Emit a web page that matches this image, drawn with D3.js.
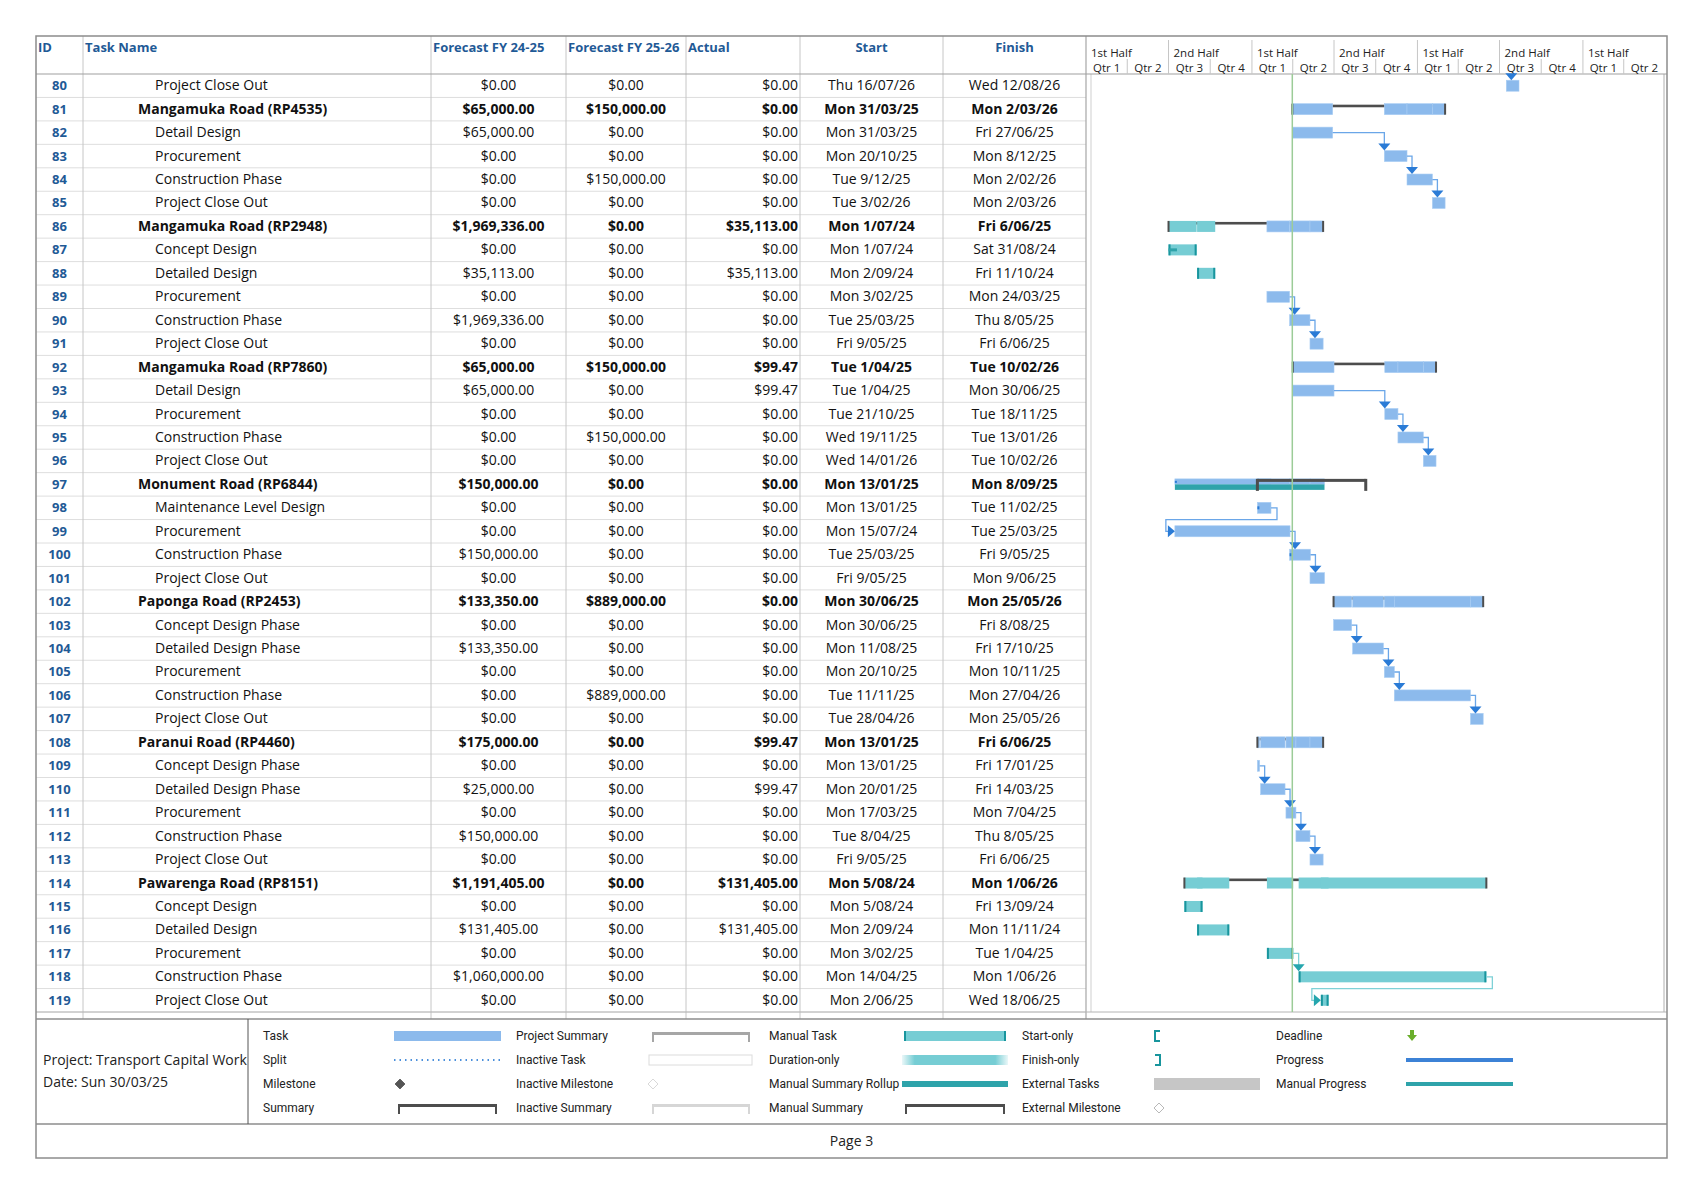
<!DOCTYPE html>
<html>
<head>
<meta charset="utf-8">
<script src="https://cdn.jsdelivr.net/npm/d3@7"></script>
<style>
  body { margin: 0; background: #fff; }
  svg text { font-family: "Segoe UI", "Open Sans", "Noto Sans", sans-serif; }
  .legend text { font-family: "Liberation Sans Narrow", "Roboto", sans-serif; }
</style>
</head>
<body>
<div id="svg-container"></div>
<script>
// ---- task table (rows 80 - 119 of the plan) ----
var taskIds = d3.range(80, 120);

var taskNames = [
  "Project Close Out",
  "Mangamuka Road (RP4535)", "Detail Design", "Procurement", "Construction Phase", "Project Close Out",
  "Mangamuka Road (RP2948)", "Concept Design", "Detailed Design", "Procurement", "Construction Phase", "Project Close Out",
  "Mangamuka Road (RP7860)", "Detail Design", "Procurement", "Construction Phase", "Project Close Out",
  "Monument Road (RP6844)", "Maintenance Level Design", "Procurement", "Construction Phase", "Project Close Out",
  "Paponga Road (RP2453)", "Concept Design Phase", "Detailed Design Phase", "Procurement", "Construction Phase", "Project Close Out",
  "Paranui Road (RP4460)", "Concept Design Phase", "Detailed Design Phase", "Procurement", "Construction Phase", "Project Close Out",
  "Pawarenga Road (RP8151)", "Concept Design", "Detailed Design", "Procurement", "Construction Phase", "Project Close Out"
];

// task = auto scheduled, manual = manually scheduled, summary / manualSummary = roll-up rows
var taskTypes = [
  "task",
  "summary", "task", "task", "task", "task",
  "summary", "manual", "manual", "task", "task", "task",
  "summary", "task", "task", "task", "task",
  "manualSummary", "task", "task", "task", "task",
  "summary", "task", "task", "task", "task", "task",
  "summary", "task", "task", "task", "task", "task",
  "summary", "manual", "manual", "manual", "manual", "manual"
];

var forecastFY2425 = [
  0,
  65000, 65000, 0, 0, 0,
  1969336, 0, 35113, 0, 1969336, 0,
  65000, 65000, 0, 0, 0,
  150000, 0, 0, 150000, 0,
  133350, 0, 133350, 0, 0, 0,
  175000, 0, 25000, 0, 150000, 0,
  1191405, 0, 131405, 0, 1060000, 0
];

var forecastFY2526 = [
  0,
  150000, 0, 0, 150000, 0,
  0, 0, 0, 0, 0, 0,
  150000, 0, 0, 150000, 0,
  0, 0, 0, 0, 0,
  889000, 0, 0, 0, 889000, 0,
  0, 0, 0, 0, 0, 0,
  0, 0, 0, 0, 0, 0
];

var actualCost = [
  0,
  0, 0, 0, 0, 0,
  35113, 0, 35113, 0, 0, 0,
  99.47, 99.47, 0, 0, 0,
  0, 0, 0, 0, 0,
  0, 0, 0, 0, 0, 0,
  99.47, 0, 99.47, 0, 0, 0,
  131405, 0, 131405, 0, 0, 0
];

var startText = [
  "Thu 16/07/26",
  "Mon 31/03/25", "Mon 31/03/25", "Mon 20/10/25", "Tue 9/12/25", "Tue 3/02/26",
  "Mon 1/07/24", "Mon 1/07/24", "Mon 2/09/24", "Mon 3/02/25", "Tue 25/03/25", "Fri 9/05/25",
  "Tue 1/04/25", "Tue 1/04/25", "Tue 21/10/25", "Wed 19/11/25", "Wed 14/01/26",
  "Mon 13/01/25", "Mon 13/01/25", "Mon 15/07/24", "Tue 25/03/25", "Fri 9/05/25",
  "Mon 30/06/25", "Mon 30/06/25", "Mon 11/08/25", "Mon 20/10/25", "Tue 11/11/25", "Tue 28/04/26",
  "Mon 13/01/25", "Mon 13/01/25", "Mon 20/01/25", "Mon 17/03/25", "Tue 8/04/25", "Fri 9/05/25",
  "Mon 5/08/24", "Mon 5/08/24", "Mon 2/09/24", "Mon 3/02/25", "Mon 14/04/25", "Mon 2/06/25"
];

var finishText = [
  "Wed 12/08/26",
  "Mon 2/03/26", "Fri 27/06/25", "Mon 8/12/25", "Mon 2/02/26", "Mon 2/03/26",
  "Fri 6/06/25", "Sat 31/08/24", "Fri 11/10/24", "Mon 24/03/25", "Thu 8/05/25", "Fri 6/06/25",
  "Tue 10/02/26", "Mon 30/06/25", "Tue 18/11/25", "Tue 13/01/26", "Tue 10/02/26",
  "Mon 8/09/25", "Tue 11/02/25", "Tue 25/03/25", "Fri 9/05/25", "Mon 9/06/25",
  "Mon 25/05/26", "Fri 8/08/25", "Fri 17/10/25", "Mon 10/11/25", "Mon 27/04/26", "Mon 25/05/26",
  "Fri 6/06/25", "Fri 17/01/25", "Fri 14/03/25", "Mon 7/04/25", "Thu 8/05/25", "Fri 6/06/25",
  "Mon 1/06/26", "Fri 13/09/24", "Mon 11/11/24", "Tue 1/04/25", "Mon 1/06/26", "Wed 18/06/25"
];

// small % complete marks seen on the bars
var percentComplete = [
  0,
  0, 0, 0, 0, 0,
  0, 0.3, 0, 0, 0, 0,
  0, 0, 0, 0, 0,
  0.01, 0.08, 0, 0.01, 0,
  0, 0, 0, 0, 0, 0,
  0, 0, 0, 0, 0, 0,
  0, 0, 0, 0, 0, 0
];

// finish-to-start links [predecessor, successor]; 79 is off this page
var links = [
  [79, 80], [82, 83], [83, 84], [84, 85], [89, 90], [90, 91],
  [93, 94], [94, 95], [95, 96], [98, 99], [99, 100], [100, 101],
  [103, 104], [104, 105], [105, 106], [106, 107],
  [109, 110], [110, 111], [111, 112], [112, 113], [117, 118], [118, 119]
];

var statusDateText = "Sun 30/03/25";
var timescaleStart = "1/01/24";
var timescaleEnd = "1/07/27";

var columnHeaders = ["ID", "Task Name", "Forecast FY 24-25", "Forecast FY 25-26", "Actual", "Start", "Finish"];

var legendLabels = [
  ["Task", "Split", "Milestone", "Summary"],
  ["Project Summary", "Inactive Task", "Inactive Milestone", "Inactive Summary"],
  ["Manual Task", "Duration-only", "Manual Summary Rollup", "Manual Summary"],
  ["Start-only", "Finish-only", "External Tasks", "External Milestone"],
  ["Deadline", "Progress", "Manual Progress"]
];

// ---- page layout ----
var svgWidth = 1703, svgHeight = 1194;
var pageLeft = 36, pageRight = 1667, pageTop = 36;
var headerBottom = 74, tableBottom = 1012;
var legendTop = 1019, legendBottom = 1124, pageBottom = 1158;
var colEdges = [36, 83, 431, 566, 686, 800, 943, 1086];
var ganttLeft = 1086, ganttRight = 1665;
var barH = 11;

// colours
var taskBlue = "#8cbaec", taskBlueEdge = "#a9cdf3";
var manualTeal = "#76cdd4", manualCap = "#18959d", rollupTeal = "#2ea3aa";
var summaryDark = "#4d4d4d";
var linkBlue = "#6aa6e8", arrowBlue = "#2a7bd6";
var linkTeal = "#7fd1d7", arrowTeal = "#25a6ae";
var headBlue = "#1f5a96";
var gridLight = "#dedede", gridMid = "#c6c6c6", frameGray = "#8c8c8c";

var parseDay = d3.timeParse("%d/%m/%y");
function toDate(s) { return parseDay(s.indexOf(" ") >= 0 ? s.split(" ")[1] : s); }
var money = d3.format("$,.2f");

var tasks = taskIds.map(function(id, i) {
  return {
    id: id, name: taskNames[i], type: taskTypes[i],
    fy1: forecastFY2425[i], fy2: forecastFY2526[i], actual: actualCost[i],
    startText: startText[i], finishText: finishText[i],
    start: toDate(startText[i]), end: d3.timeDay.offset(toDate(finishText[i]), 1),
    pct: percentComplete[i]
  };
});
var byId = {};
tasks.forEach(function(t) { byId[t.id] = t; });

// children of each summary: following rows until the next summary
var currentSummary = null;
tasks.forEach(function(t) {
  if (t.type === "summary" || t.type === "manualSummary") { currentSummary = t; t.kids = []; }
  else if (currentSummary) currentSummary.kids.push(t);
});

// scales
var x = d3.scaleTime()
  .domain([toDate(timescaleStart), toDate(timescaleEnd)])
  .range([ganttLeft, ganttRight]);

var y = d3.scaleBand()
  .domain(taskIds)
  .range([headerBottom, tableBottom]);

function midY(id) { return y(id) + y.bandwidth() / 2; }

var svg = d3.select("#svg-container").append("svg")
  .attr("width", svgWidth)
  .attr("height", svgHeight);

svg.append("rect").attr("width", svgWidth).attr("height", svgHeight).attr("fill", "#fff");

// ---- table grid ----
var grid = svg.append("g").attr("class", "grid");

grid.selectAll(".rowline")
  .data(taskIds)
  .enter().append("line")
    .attr("x1", pageLeft).attr("x2", ganttLeft)
    .attr("y1", function(d) { return y(d) + y.step(); })
    .attr("y2", function(d) { return y(d) + y.step(); })
    .attr("stroke", gridLight).attr("stroke-width", 1);

grid.selectAll(".colline")
  .data(colEdges.slice(1, -1))
  .enter().append("line")
    .attr("x1", function(d) { return d; }).attr("x2", function(d) { return d; })
    .attr("y1", pageTop).attr("y2", legendTop)
    .attr("stroke", gridMid).attr("stroke-width", 1);

// gantt frame: header divider plus inner double lines
grid.append("line").attr("x1", ganttLeft).attr("x2", ganttLeft).attr("y1", pageTop).attr("y2", legendTop)
  .attr("stroke", "#a6a6a6").attr("stroke-width", 1.2);
grid.append("line").attr("x1", ganttLeft + 5).attr("x2", ganttLeft + 5).attr("y1", headerBottom).attr("y2", tableBottom)
  .attr("stroke", "#cfcfcf").attr("stroke-width", 1);
grid.append("line").attr("x1", ganttRight - 1).attr("x2", ganttRight - 1).attr("y1", headerBottom).attr("y2", tableBottom)
  .attr("stroke", "#b0b0b0").attr("stroke-width", 1);

grid.append("line").attr("x1", pageLeft).attr("x2", pageRight).attr("y1", headerBottom).attr("y2", headerBottom)
  .attr("stroke", "#a0a0a0").attr("stroke-width", 1.2);
grid.append("line").attr("x1", pageLeft).attr("x2", pageRight).attr("y1", tableBottom).attr("y2", tableBottom)
  .attr("stroke", "#b4b4b4").attr("stroke-width", 1);

// ---- column headers ----
var head = svg.append("g").attr("class", "head")
  .attr("font-size", 13).attr("font-weight", "bold").attr("fill", headBlue);
var headX = [pageLeft + 2, colEdges[1] + 2, colEdges[2] + 2, colEdges[3] + 2, colEdges[4] + 2,
  (colEdges[5] + colEdges[6]) / 2, (colEdges[6] + colEdges[7]) / 2];
head.selectAll("text")
  .data(columnHeaders)
  .enter().append("text")
    .attr("x", function(d, i) { return headX[i]; })
    .attr("y", 52)
    .attr("text-anchor", function(d, i) { return i >= 5 ? "middle" : "start"; })
    .text(function(d) { return d; });

// ---- timescale ----
var halves = d3.timeMonth.every(6).range(x.domain()[0], x.domain()[1]);
var quarters = d3.timeMonth.every(3).range(x.domain()[0], x.domain()[1]);
var scaleG = svg.append("g").attr("class", "timescale").attr("font-size", 11.5).attr("fill", "#222");

scaleG.selectAll(".half-div")
  .data(halves.slice(1))
  .enter().append("line")
    .attr("x1", function(d) { return x(d); }).attr("x2", function(d) { return x(d); })
    .attr("y1", 40).attr("y2", headerBottom)
    .attr("stroke", gridMid);
scaleG.selectAll(".qtr-div")
  .data(quarters.filter(function(d) { return d.getMonth() % 6 !== 0; }))
  .enter().append("line")
    .attr("x1", function(d) { return x(d); }).attr("x2", function(d) { return x(d); })
    .attr("y1", 59).attr("y2", headerBottom)
    .attr("stroke", gridMid);
scaleG.selectAll(".half-label")
  .data(halves)
  .enter().append("text")
    .attr("x", function(d) { return x(d) + 5; })
    .attr("y", 57)
    .text(function(d) { return d.getMonth() < 6 ? "1st Half" : "2nd Half"; });
scaleG.selectAll(".qtr-label")
  .data(quarters)
  .enter().append("text")
    .attr("x", function(d) { return (x(d) + x(d3.timeMonth.offset(d, 3))) / 2; })
    .attr("y", 72)
    .attr("text-anchor", "middle")
    .text(function(d) { return "Qtr " + (Math.floor(d.getMonth() / 3) + 1); });

// ---- table cells ----
var rows = svg.append("g").attr("class", "rows").attr("font-size", 14)
  .selectAll("g")
  .data(tasks)
  .enter().append("g")
    .attr("transform", function(d) { return "translate(0," + (midY(d.id) + 4.5) + ")"; })
    .attr("font-weight", function(d) { return d.type === "task" || d.type === "manual" ? "normal" : "bold"; });

rows.append("text")
  .attr("x", (colEdges[0] + colEdges[1]) / 2).attr("text-anchor", "middle")
  .attr("fill", headBlue).attr("font-weight", "bold").attr("font-size", 13)
  .text(function(d) { return d.id; });
rows.append("text")
  .attr("x", function(d) { return d.kids ? 138 : 155; })
  .attr("fill", "#111")
  .text(function(d) { return d.name; });
rows.append("text")
  .attr("x", (colEdges[2] + colEdges[3]) / 2).attr("text-anchor", "middle").attr("fill", "#111")
  .text(function(d) { return money(d.fy1); });
rows.append("text")
  .attr("x", (colEdges[3] + colEdges[4]) / 2).attr("text-anchor", "middle").attr("fill", "#111")
  .text(function(d) { return money(d.fy2); });
rows.append("text")
  .attr("x", colEdges[5] - 2).attr("text-anchor", "end").attr("fill", "#111")
  .text(function(d) { return money(d.actual); });
rows.append("text")
  .attr("x", (colEdges[5] + colEdges[6]) / 2).attr("text-anchor", "middle").attr("fill", "#111")
  .text(function(d) { return d.startText; });
rows.append("text")
  .attr("x", (colEdges[6] + colEdges[7]) / 2).attr("text-anchor", "middle").attr("fill", "#111")
  .text(function(d) { return d.finishText; });

// ---- gantt bars ----
var bars = svg.append("g").attr("class", "bars");

function barTop(id) { return midY(id) - barH / 2; }

function drawTaskBar(g, t, top, h) {
  var x0 = x(t.start), x1 = Math.max(x(t.end), x0 + 2);
  if (t.type === "manual") {
    g.append("rect").attr("x", x0).attr("y", top).attr("width", x1 - x0).attr("height", h)
      .attr("fill", manualTeal);
  } else {
    g.append("rect").attr("x", x0).attr("y", top).attr("width", x1 - x0).attr("height", h)
      .attr("fill", taskBlue).attr("stroke", taskBlueEdge).attr("stroke-width", 0.6);
  }
}

tasks.forEach(function(t) {
  var top = barTop(t.id);
  var g = bars.append("g");
  if (t.type === "summary") {
    // thin line over the summary span, roll-up bars of the children, end caps
    g.append("rect").attr("x", x(t.start)).attr("y", top + 1).attr("width", x(t.end) - x(t.start)).attr("height", 2.6)
      .attr("fill", summaryDark);
    t.kids.forEach(function(k) { drawTaskBar(g, k, top, barH); });
    [x(t.start), x(t.end)].forEach(function(cx) {
      g.append("rect").attr("x", cx - 1).attr("y", top).attr("width", 2).attr("height", barH).attr("fill", summaryDark);
    });
  } else if (t.type === "manualSummary") {
    var k0 = d3.min(t.kids, function(k) { return k.start; });
    var k1 = d3.max(t.kids, function(k) { return k.end; });
    t.kids.forEach(function(k) { drawTaskBar(g, k, top, barH / 2); });
    g.append("rect").attr("x", x(k0)).attr("y", top + barH / 2).attr("width", x(k1) - x(k0)).attr("height", barH / 2)
      .attr("fill", rollupTeal);
    g.append("rect").attr("x", x(k0)).attr("y", top + 2).attr("width", 2).attr("height", 2).attr("fill", arrowBlue);
    g.append("rect").attr("x", x(t.start)).attr("y", top).attr("width", x(t.end) - x(t.start)).attr("height", 3)
      .attr("fill", summaryDark);
    [x(t.start), x(t.end)].forEach(function(cx) {
      g.append("rect").attr("x", cx - 1.5).attr("y", top).attr("width", 3).attr("height", barH + 1).attr("fill", summaryDark);
    });
  } else {
    drawTaskBar(g, t, top, barH);
    var x0 = x(t.start), x1 = Math.max(x(t.end), x0 + 2);
    if (t.type === "manual") {
      [x0, x1 - 2].forEach(function(cx) {
        g.append("rect").attr("x", cx).attr("y", top).attr("width", 2).attr("height", barH).attr("fill", manualCap);
      });
      if (t.pct > 0) {
        g.append("rect").attr("x", x0).attr("y", midY(t.id) - 1.5).attr("width", (x1 - x0) * t.pct).attr("height", 3)
          .attr("fill", rollupTeal);
      }
    } else if (t.pct > 0) {
      g.append("rect").attr("x", x0).attr("y", midY(t.id) - 1.5).attr("width", Math.max(2, (x1 - x0) * t.pct)).attr("height", 3)
        .attr("fill", arrowBlue);
    }
  }
});

// ---- links ----
var linkG = svg.append("g").attr("class", "links").attr("fill", "none");

links.forEach(function(l) {
  var succ = byId[l[1]], pred = byId[l[0]];
  var manual = succ.type === "manual";
  var lc = manual ? linkTeal : linkBlue, ac = manual ? arrowTeal : arrowBlue;
  var sTop = barTop(succ.id), sx = x(succ.start);
  var path, arrow;
  if (!pred) {
    var axTop = sx + 5;
    path = "M" + axTop + "," + headerBottom + "V" + (sTop - 5);
    arrow = [[axTop - 6, sTop - 7], [axTop + 6, sTop - 7], [axTop, sTop]];
  } else {
    var pEnd = Math.max(x(pred.end), x(pred.start) + 2), pY = midY(pred.id);
    if (sx + 4 < pEnd - 20) {
      // successor lies to the left: loop round below the predecessor
      var loopY = y(pred.id) + y.step();
      var sY = midY(succ.id);
      path = "M" + pEnd + "," + pY + "H" + (pEnd + 6) + "V" + loopY + "H" + (sx - 9) + "V" + sY + "H" + (sx - 5);
      arrow = [[sx - 7, sY - 6], [sx - 7, sY + 6], [sx, sY]];
    } else {
      var ax = Math.max(sx, pEnd + 5);
      path = "M" + pEnd + "," + pY + "H" + ax + "V" + (sTop - 5);
      arrow = [[ax - 6, sTop - 7], [ax + 6, sTop - 7], [ax, sTop]];
    }
  }
  linkG.append("path").attr("d", path).attr("stroke", lc).attr("stroke-width", 1.3);
  linkG.append("path").attr("d", "M" + arrow.join("L") + "Z").attr("fill", ac);
});

// status date line
var statusX = x(d3.timeDay.offset(toDate(statusDateText), 1));
svg.append("line")
  .attr("x1", statusX).attr("x2", statusX)
  .attr("y1", headerBottom).attr("y2", tableBottom)
  .attr("stroke", "#9ccc98").attr("stroke-width", 1.5);

// ---- legend ----
var legend = svg.append("g").attr("class", "legend");
legend.append("line").attr("x1", pageLeft).attr("x2", pageRight).attr("y1", legendTop).attr("y2", legendTop)
  .attr("stroke", frameGray).attr("stroke-width", 1.5);
legend.append("line").attr("x1", pageLeft).attr("x2", pageRight).attr("y1", legendBottom).attr("y2", legendBottom)
  .attr("stroke", frameGray).attr("stroke-width", 1.5);
legend.append("line").attr("x1", 248).attr("x2", 248).attr("y1", legendTop).attr("y2", legendBottom)
  .attr("stroke", "#555").attr("stroke-width", 1);

svg.append("text").attr("x", 43).attr("y", 1065).attr("font-size", 14).attr("fill", "#222")
  .text("Project: Transport Capital Work");
svg.append("text").attr("x", 43).attr("y", 1087).attr("font-size", 14).attr("fill", "#222")
  .text("Date: " + statusDateText);

var legendLabelX = [263, 516, 769, 1022, 1276];
var legendSymX = [[394, 501], [649, 752], [904, 1006], [1154, 1260], [1406, 1513]];
var legendRowY = [1036, 1060, 1084, 1108];

function bracket(g, x0, x1, cy, color, w) {
  g.append("rect").attr("x", x0).attr("y", cy - 4).attr("width", x1 - x0).attr("height", w).attr("fill", color);
  g.append("rect").attr("x", x0).attr("y", cy - 4).attr("width", 2).attr("height", 10).attr("fill", color);
  g.append("rect").attr("x", x1 - 2).attr("y", cy - 4).attr("width", 2).attr("height", 10).attr("fill", color);
}
function diamond(g, cx, cy, fill, stroke) {
  g.append("path").attr("d", "M" + cx + "," + (cy - 5) + "L" + (cx + 5) + "," + cy + "L" + cx + "," + (cy + 5) + "L" + (cx - 5) + "," + cy + "Z")
    .attr("fill", fill).attr("stroke", stroke).attr("stroke-width", 0.8);
}

var symbolDraw = {
  "Task": function(g, a, b, cy) { g.append("rect").attr("x", a).attr("y", cy - 5).attr("width", b - a).attr("height", 10).attr("fill", taskBlue); },
  "Split": function(g, a, b, cy) { g.append("line").attr("x1", a).attr("x2", b).attr("y1", cy).attr("y2", cy).attr("stroke", "#4a8fdc").attr("stroke-width", 2).attr("stroke-dasharray", "1.5,4"); },
  "Milestone": function(g, a, b, cy) { diamond(g, a + 6, cy, "#555", "#555"); },
  "Summary": function(g, a, b, cy) { bracket(g, a + 4, b - 4, cy, summaryDark, 3); },
  "Project Summary": function(g, a, b, cy) { bracket(g, a + 3, b - 2, cy, "#a6a6a6", 3); },
  "Inactive Task": function(g, a, b, cy) { g.append("rect").attr("x", a).attr("y", cy - 5).attr("width", b - a).attr("height", 10).attr("fill", "#fff").attr("stroke", "#dcdcdc"); },
  "Inactive Milestone": function(g, a, b, cy) { diamond(g, a + 4, cy, "#fff", "#cfcfcf"); },
  "Inactive Summary": function(g, a, b, cy) { bracket(g, a + 3, b - 2, cy, "#d6d6d6", 3); },
  "Manual Task": function(g, a, b, cy) {
    g.append("rect").attr("x", a).attr("y", cy - 5).attr("width", b - a).attr("height", 10).attr("fill", manualTeal);
    g.append("rect").attr("x", a).attr("y", cy - 5).attr("width", 2).attr("height", 10).attr("fill", manualCap);
    g.append("rect").attr("x", b - 2).attr("y", cy - 5).attr("width", 2).attr("height", 10).attr("fill", manualCap);
  },
  "Duration-only": function(g, a, b, cy) {
    var gid = "durfade";
    var grad = svg.append("defs").append("linearGradient").attr("id", gid);
    grad.append("stop").attr("offset", "0%").attr("stop-color", manualTeal).attr("stop-opacity", 0.15);
    grad.append("stop").attr("offset", "12%").attr("stop-color", manualTeal).attr("stop-opacity", 1);
    grad.append("stop").attr("offset", "88%").attr("stop-color", manualTeal).attr("stop-opacity", 1);
    grad.append("stop").attr("offset", "100%").attr("stop-color", manualTeal).attr("stop-opacity", 0.15);
    g.append("rect").attr("x", a - 2).attr("y", cy - 5).attr("width", b - a + 4).attr("height", 10).attr("fill", "url(#" + gid + ")");
  },
  "Manual Summary Rollup": function(g, a, b, cy) { g.append("rect").attr("x", a - 2).attr("y", cy - 3).attr("width", b - a + 4).attr("height", 6).attr("fill", rollupTeal); },
  "Manual Summary": function(g, a, b, cy) { bracket(g, a + 1, b - 1, cy, summaryDark, 3); },
  "Start-only": function(g, a, b, cy) { g.append("path").attr("d", "M" + (a + 6) + "," + (cy - 5) + "H" + (a + 1) + "V" + (cy + 5) + "H" + (a + 6)).attr("fill", "none").attr("stroke", manualCap).attr("stroke-width", 2); },
  "Finish-only": function(g, a, b, cy) { g.append("path").attr("d", "M" + (a + 1) + "," + (cy - 5) + "H" + (a + 6) + "V" + (cy + 5) + "H" + (a + 1)).attr("fill", "none").attr("stroke", manualCap).attr("stroke-width", 2); },
  "External Tasks": function(g, a, b, cy) { g.append("rect").attr("x", a).attr("y", cy - 6).attr("width", b - a).attr("height", 12).attr("fill", "#c6c6c6"); },
  "External Milestone": function(g, a, b, cy) { diamond(g, a + 5, cy, "#fff", "#a6a6a6"); },
  "Deadline": function(g, a, b, cy) {
    g.append("path").attr("d", "M" + (a + 4) + "," + (cy - 6) + "H" + (a + 8) + "V" + (cy - 1) + "H" + (a + 11) + "L" + (a + 6) + "," + (cy + 5) + "L" + (a + 1) + "," + (cy - 1) + "H" + (a + 4) + "Z")
      .attr("fill", "#6aae2b");
  },
  "Progress": function(g, a, b, cy) { g.append("rect").attr("x", a).attr("y", cy - 2).attr("width", b - a).attr("height", 4).attr("fill", "#3c82d6"); },
  "Manual Progress": function(g, a, b, cy) { g.append("rect").attr("x", a).attr("y", cy - 2).attr("width", b - a).attr("height", 4).attr("fill", rollupTeal); }
};

legendLabels.forEach(function(col, ci) {
  col.forEach(function(label, ri) {
    var cy = legendRowY[ri];
    legend.append("text").attr("x", legendLabelX[ci]).attr("y", cy + 4)
      .attr("font-size", 12).attr("fill", "#222").text(label);
    symbolDraw[label](legend, legendSymX[ci][0], legendSymX[ci][1], cy);
  });
});

// ---- footer and outer frame ----
svg.append("text").attr("x", (pageLeft + pageRight) / 2).attr("y", 1146).attr("text-anchor", "middle")
  .attr("font-size", 14).attr("fill", "#222").text("Page 3");

svg.append("rect").attr("x", pageLeft).attr("y", pageTop)
  .attr("width", pageRight - pageLeft).attr("height", pageBottom - pageTop)
  .attr("fill", "none").attr("stroke", frameGray).attr("stroke-width", 1.5);
</script>
</body>
</html>
